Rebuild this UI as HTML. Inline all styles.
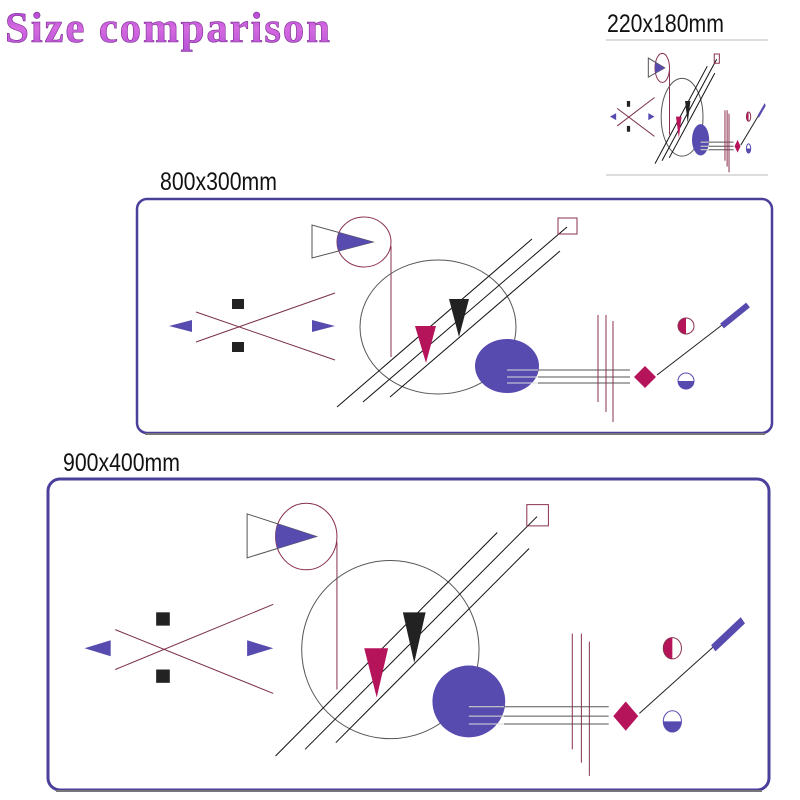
<!DOCTYPE html>
<html><head><meta charset="utf-8"><style>
html,body{margin:0;padding:0;background:#fff;}
body{width:800px;height:800px;position:relative;overflow:hidden;font-family:"Liberation Sans",sans-serif;}
.t{position:absolute;color:#111;font-size:24px;white-space:nowrap;transform:scaleX(0.85);transform-origin:left top;}
</style></head><body>
<svg width="800" height="800" viewBox="0 0 800 800" style="position:absolute;left:0;top:0">
<defs>
<linearGradient id="g" x1="0" y1="0" x2="0" y2="1">
<stop offset="0" stop-color="#a43ad0"/><stop offset="0.5" stop-color="#d56ae0"/><stop offset="1" stop-color="#b24fd4"/>
</linearGradient>
<clipPath id="bc"><ellipse cx="364" cy="242" rx="27" ry="25"/></clipPath>
<g id="d" fill="none" stroke-width="1">
<ellipse cx="364" cy="242" rx="27" ry="25" stroke="#8a3050" vector-effect="non-scaling-stroke"/>
<polygon points="312,225 312,258 373,242" stroke="#555" vector-effect="non-scaling-stroke"/>
<polygon points="312,225 312,258 373,242" fill="#574bb0" clip-path="url(#bc)"/>
<line x1="391" y1="246" x2="391" y2="357" stroke="#8a3050" vector-effect="non-scaling-stroke"/>
<ellipse cx="438" cy="327" rx="78" ry="67" stroke="#555" vector-effect="non-scaling-stroke"/>
<line x1="196" y1="312" x2="335" y2="360" stroke="#7a3048" vector-effect="non-scaling-stroke"/>
<line x1="196" y1="342" x2="335" y2="293" stroke="#7a3048" vector-effect="non-scaling-stroke"/>
<rect x="232" y="299" width="12" height="10" fill="#222"/>
<rect x="232" y="342" width="12" height="10" fill="#222"/>
<polygon points="169,326 192,320 192,332" fill="#574bb0"/>
<polygon points="312,320 312,332 335,326" fill="#574bb0"/>
<line x1="337" y1="407" x2="532" y2="239" stroke="#111" vector-effect="non-scaling-stroke"/>
<line x1="363" y1="402" x2="567" y2="227" stroke="#111" vector-effect="non-scaling-stroke"/>
<line x1="390" y1="397" x2="560" y2="251" stroke="#111" vector-effect="non-scaling-stroke"/>
<rect x="558" y="218" width="19" height="16" stroke="#8a3050" vector-effect="non-scaling-stroke"/>
<polygon points="415,326 436,326 426,363" fill="#b5145a"/>
<polygon points="449,299 469,299 459,337" fill="#222"/>
<ellipse cx="507" cy="366" rx="32" ry="27" fill="#574bb0"/>
<g stroke="#555"><line x1="507" y1="370" x2="630" y2="370" vector-effect="non-scaling-stroke"/><line x1="507" y1="377" x2="630" y2="377" vector-effect="non-scaling-stroke"/><line x1="507" y1="383" x2="630" y2="383" vector-effect="non-scaling-stroke"/></g>
<line x1="507" y1="370" x2="538" y2="370" stroke="#ddd" vector-effect="non-scaling-stroke"/>
<line x1="507" y1="377" x2="538" y2="377" stroke="#ddd" vector-effect="non-scaling-stroke"/>
<line x1="507" y1="383" x2="538" y2="383" stroke="#ddd" vector-effect="non-scaling-stroke"/>
<line x1="598" y1="315" x2="598" y2="402" stroke="#8a3050" vector-effect="non-scaling-stroke"/>
<line x1="606" y1="315" x2="606" y2="412" stroke="#8a3050" vector-effect="non-scaling-stroke"/>
<line x1="613" y1="321" x2="613" y2="422" stroke="#8a3050" vector-effect="non-scaling-stroke"/>
<polygon points="645,366 656,377 645,388 634,377" fill="#b5145a"/>
<line x1="657" y1="375" x2="748" y2="305" stroke="#222" vector-effect="non-scaling-stroke"/>
<line x1="722" y1="326" x2="748" y2="305" stroke="#574bb0" stroke-width="6"/>
<path d="M686,318 A8,8 0 0 0 686,334 Z" fill="#b5145a"/>
<circle cx="686" cy="326" r="8" stroke="#8a3050" vector-effect="non-scaling-stroke"/>
<path d="M678,381 A8,8 0 0 0 694,381 Z" fill="#574bb0"/>
<circle cx="686" cy="381" r="8" stroke="#574bb0" vector-effect="non-scaling-stroke"/>
</g>
</defs>
<text x="5" y="42" font-family="Liberation Serif, serif" font-weight="bold" font-size="43" fill="url(#g)" stroke="#7a2a90" stroke-width="0.6" textLength="325">Size comparison</text>
<line x1="606" y1="40" x2="768" y2="40" stroke="#bbb"/>
<line x1="606" y1="175" x2="768" y2="175" stroke="#bbb"/>
<use href="#d" transform="translate(610,54) scale(0.268,0.58) translate(-169,-218)"/>
<rect x="137" y="199" width="635" height="234" rx="10" fill="#fff" stroke="#4a3f9a" stroke-width="2.5"/>
<line x1="145" y1="434" x2="765" y2="434" stroke="#777" stroke-width="2"/>
<use href="#d"/>
<rect x="48" y="479" width="721" height="311" rx="12" fill="#fff" stroke="#4a3f9a" stroke-width="3"/>
<line x1="56" y1="791" x2="762" y2="791" stroke="#777" stroke-width="2"/>
<use href="#d" transform="translate(47,478) scale(1.137,1.33) translate(-136,-198)"/>
</svg>
<div class="t" style="left:607px;top:10px;font-size:25px">220x180mm</div>
<div class="t" style="left:160px;top:168px;font-size:25px">800x300mm</div>
<div class="t" style="left:63px;top:449px;font-size:25px">900x400mm</div>
</body></html>
